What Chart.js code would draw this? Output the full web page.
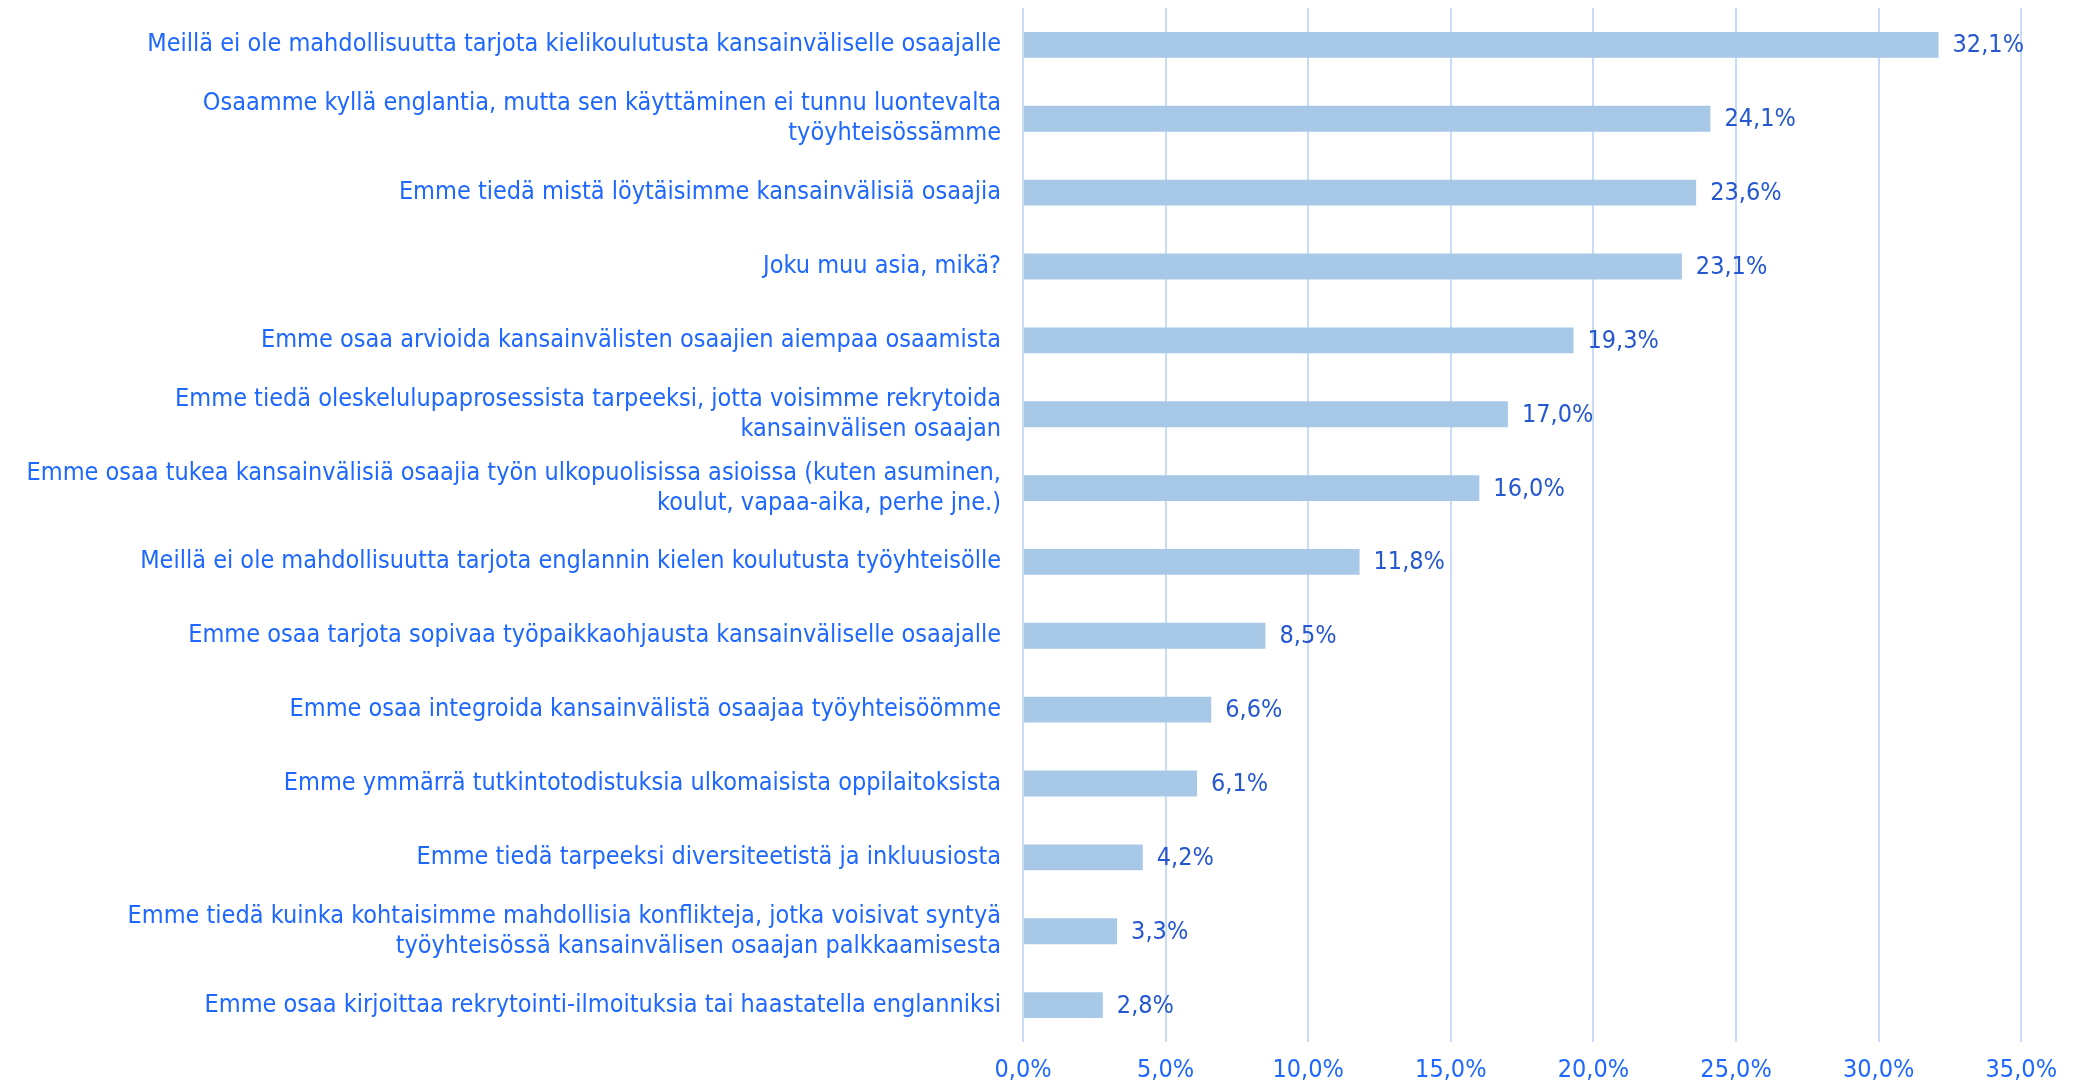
<!DOCTYPE html>
<html>
<head>
<meta charset="utf-8">
<script src="https://cdn.jsdelivr.net/npm/chart.js@4.4.1/dist/chart.umd.min.js"></script>
<style>
  html, body { margin: 0; padding: 0; background: #fff; }
  #wrap { width: 2073px; height: 1084px; }
</style>
</head>
<body>
<div id="wrap"><canvas id="chart"></canvas></div>
<script>
const categories = [
  'Meillä ei ole mahdollisuutta tarjota kielikoulutusta kansainväliselle osaajalle',
  ['Osaamme kyllä englantia, mutta sen käyttäminen ei tunnu luontevalta', 'työyhteisössämme'],
  'Emme tiedä mistä löytäisimme kansainvälisiä osaajia',
  'Joku muu asia, mikä?',
  'Emme osaa arvioida kansainvälisten osaajien aiempaa osaamista',
  ['Emme tiedä oleskelulupaprosessista tarpeeksi, jotta voisimme rekrytoida', 'kansainvälisen osaajan'],
  ['Emme osaa tukea kansainvälisiä osaajia työn ulkopuolisissa asioissa (kuten asuminen,', 'koulut, vapaa-aika, perhe jne.)'],
  'Meillä ei ole mahdollisuutta tarjota englannin kielen koulutusta työyhteisölle',
  'Emme osaa tarjota sopivaa työpaikkaohjausta kansainväliselle osaajalle',
  'Emme osaa integroida kansainvälistä osaajaa työyhteisöömme',
  'Emme ymmärrä tutkintotodistuksia ulkomaisista oppilaitoksista',
  'Emme tiedä tarpeeksi diversiteetistä ja inkluusiosta',
  ['Emme tiedä kuinka kohtaisimme mahdollisia konflikteja, jotka voisivat syntyä', 'työyhteisössä kansainvälisen osaajan palkkaamisesta'],
  'Emme osaa kirjoittaa rekrytointi-ilmoituksia tai haastatella englanniksi'
]

const shares = [32.1, 24.1, 23.6, 23.1, 19.3, 17.0, 16.0, 11.8, 8.5, 6.6, 6.1, 4.2, 3.3, 2.8]

const xTicks = [0, 5, 10, 15, 20, 25, 30, 35]

const FONT = '"Liberation Sans Narrow", "DejaVu Sans Condensed", "Liberation Sans", sans-serif'
const TEXT_BLUE = '#1f68ff'
const VALUE_BLUE = '#2457d0'

const pct = v => v.toFixed(1).replace('.', ',') + '%'

// value labels just past the end of each bar
const valueLabels = {
  id: 'valueLabels',
  afterDatasetsDraw(chart) {
    const ctx = chart.ctx
    const meta = chart.getDatasetMeta(0)
    ctx.save()
    ctx.font = '25px ' + FONT
    ctx.fillStyle = VALUE_BLUE
    ctx.textAlign = 'left'
    ctx.textBaseline = 'middle'
    meta.data.forEach((bar, i) => {
      ctx.fillText(pct(shares[i]), bar.x + 14, bar.y + 1)
    })
    ctx.restore()
  }
}

new Chart(document.getElementById('chart'), {
  type: 'bar',
  data: {
    labels: categories,
    datasets: [{
      data: shares,
      backgroundColor: '#a7c9e7',
      borderWidth: 0,
      barPercentage: 0.35,
      categoryPercentage: 1
    }]
  },
  options: {
    indexAxis: 'y',
    responsive: true,
    maintainAspectRatio: false,
    animation: false,
    layout: { padding: { top: 8, right: 46, bottom: 0, left: 0 } },
    plugins: {
      legend: { display: false },
      tooltip: { enabled: false }
    },
    scales: {
      x: {
        min: 0,
        max: 35,
        afterBuildTicks(scale) {
          scale.ticks = xTicks.map(v => ({ value: v }))
        },
        afterFit(scale) {
          scale.height = 42
        },
        grid: { color: '#c8dcf6', lineWidth: 2, drawTicks: false },
        border: { display: false },
        ticks: {
          color: TEXT_BLUE,
          font: { family: FONT, size: 25, lineHeight: 1 },
          padding: 16,
          maxRotation: 0,
          callback: v => pct(v)
        }
      },
      y: {
        afterFit(scale) {
          scale.width = 1023
          scale.paddingTop = 0
          scale.paddingBottom = 0
        },
        grid: { display: false, drawTicks: false },
        border: { display: false },
        ticks: {
          color: TEXT_BLUE,
          font: { family: FONT, size: 25, lineHeight: 1.2 },
          padding: 22,
          autoSkip: false
        }
      }
    }
  },
  plugins: [valueLabels]
})
</script>
</body>
</html>
